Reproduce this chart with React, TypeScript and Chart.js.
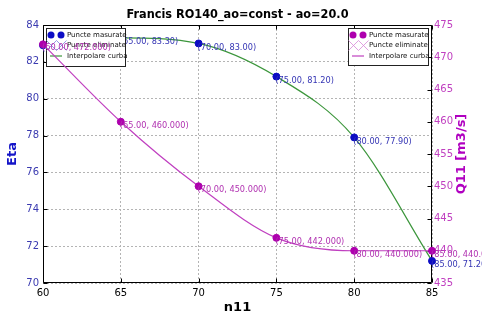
import { useEffect, useRef } from "react";
import { Chart, registerables } from "chart.js";

Chart.register(...registerables);

// ---- data ----
const n11 = [60, 65, 70, 75, 80, 85];
const eta = [82.9, 83.3, 83.0, 81.2, 77.9, 71.2];
const q11 = [472, 460, 450, 442, 440, 440];
const xTicks = [60, 65, 70, 75, 80, 85];
const etaTicks = [70, 72, 74, 76, 78, 80, 82, 84];
const q11Ticks = [435, 440, 445, 450, 455, 460, 465, 470, 475];
const titleText = "Francis RO140_ao=const - ao=20.0";
const xTitle = "n11";
const etaTitle = "Eta";
const q11Title = "Q11 [m3/s]";
const legendLabels = ["Puncte masurate", "Puncte eliminate", "Interpolare curba"];

// ---- styles ----
const FONT = '"DejaVu Sans", sans-serif';
const BLUE_PT = "#0c0cc4";
const BLUE_TXT = "#3434b4";
const BLUE_TICK = "#3a3ab0";
const BLUE_TITLE = "#1414c8";
const MAG_PT = "#ae00ae";
const MAG_LINE = "#c040c0";
const MAG_TXT = "#b030b0";
const MAG_TICK = "#c040c0";
const MAG_TITLE = "#b000c0";
const GREEN = "#3c963c";

function drawLegend(
  ctx: CanvasRenderingContext2D,
  left: number,
  top: number,
  w: number,
  h: number,
  ptColor: string,
  xColor: string,
  lineColor: string
) {
  ctx.save();
  ctx.fillStyle = "#ffffff";
  ctx.fillRect(left, top, w, h);
  ctx.strokeStyle = "#222222";
  ctx.lineWidth = 1;
  ctx.strokeRect(left + 0.5, top + 0.5, w, h);
  const rows = [top + 7, top + 17.5, top + 28];
  ctx.fillStyle = ptColor;
  for (const cx of [left + 5, left + 15]) {
    ctx.beginPath();
    ctx.arc(cx, rows[0], 3.5, 0, Math.PI * 2);
    ctx.fill();
  }
  ctx.strokeStyle = xColor;
  ctx.lineWidth = 0.8;
  for (const cx of [left + 5.5, left + 15.5]) {
    ctx.beginPath();
    ctx.moveTo(cx - 5, rows[1] - 5);
    ctx.lineTo(cx + 5, rows[1] + 5);
    ctx.moveTo(cx - 5, rows[1] + 5);
    ctx.lineTo(cx + 5, rows[1] - 5);
    ctx.stroke();
  }
  ctx.strokeStyle = lineColor;
  ctx.lineWidth = 1.2;
  ctx.beginPath();
  ctx.moveTo(left + 4, rows[2]);
  ctx.lineTo(left + 16, rows[2]);
  ctx.stroke();
  ctx.fillStyle = "#111111";
  ctx.font = `7px ${FONT}`;
  ctx.textAlign = "left";
  ctx.textBaseline = "middle";
  legendLabels.forEach((t, i) => ctx.fillText(t, left + 21, rows[i]));
  ctx.restore();
}

function drawPointLabels(
  chart: any,
  yKey: string,
  ys: number[],
  digits: number,
  color: string
) {
  const ctx = chart.ctx as CanvasRenderingContext2D;
  const xs = chart.scales.x;
  const ysc = chart.scales[yKey];
  ctx.save();
  ctx.fillStyle = color;
  ctx.font = `8.2px ${FONT}`;
  ctx.textAlign = "left";
  ctx.textBaseline = "middle";
  n11.forEach((xv, i) => {
    const px = xs.getPixelForValue(xv);
    const py = ysc.getPixelForValue(ys[i]);
    ctx.fillText(`(${xv.toFixed(2)}, ${ys[i].toFixed(digits)})`, px - 1, py + 4);
  });
  ctx.restore();
}

const overlay = {
  id: "overlay",
  beforeDatasetsDraw(chart: any) {
    const ctx = chart.ctx as CanvasRenderingContext2D;
    const a = chart.chartArea;
    const xs = chart.scales.x;
    const y = chart.scales.y;
    const y1 = chart.scales.y1;
    ctx.save();
    ctx.strokeStyle = "#000000";
    ctx.lineWidth = 1;
    ctx.beginPath();
    const L = Math.round(a.left) + 0.5;
    const R = Math.round(a.right) - 0.5;
    const T = Math.round(a.top) + 0.5;
    const B = Math.round(a.bottom) - 0.5;
    ctx.rect(L, T, R - L, B - T);
    for (const v of xTicks) {
      const px = Math.round(xs.getPixelForValue(v)) + 0.5;
      ctx.moveTo(px, B);
      ctx.lineTo(px, B - 4);
      ctx.moveTo(px, T);
      ctx.lineTo(px, T + 4);
    }
    for (const v of etaTicks) {
      const py = Math.round(y.getPixelForValue(v)) + 0.5;
      ctx.moveTo(L, py);
      ctx.lineTo(L + 4, py);
    }
    for (const v of q11Ticks) {
      const py = Math.round(y1.getPixelForValue(v)) + 0.5;
      ctx.moveTo(R, py);
      ctx.lineTo(R - 4, py);
    }
    ctx.stroke();
    ctx.restore();
  },
  afterDatasetDraw(chart: any, args: any) {
    const ctx = chart.ctx as CanvasRenderingContext2D;
    if (args.index === 0) {
      drawPointLabels(chart, "y", eta, 2, BLUE_TXT);
      drawLegend(ctx, 46, 28, 79, 38, BLUE_PT, "#8080e0", GREEN);
    } else if (args.index === 1) {
      drawPointLabels(chart, "y1", q11, 3, MAG_TXT);
      drawLegend(ctx, 348, 28, 80, 37, MAG_PT, "#d888d8", MAG_LINE);
    }
  },
  afterDraw(chart: any) {
    const ctx = chart.ctx as CanvasRenderingContext2D;
    const a = chart.chartArea;
    const cx = (a.left + a.right) / 2;
    const cy = (a.top + a.bottom) / 2;
    ctx.save();
    ctx.textAlign = "center";
    ctx.textBaseline = "middle";
    ctx.fillStyle = "#000000";
    ctx.font = `bold 12.5px ${FONT}`;
    const w = ctx.measureText(titleText).width;
    const s = Math.min(1, 222 / w);
    ctx.save();
    ctx.translate(cx, 15);
    ctx.scale(s, 1);
    ctx.fillText(titleText, 0, 0);
    ctx.restore();
    ctx.font = `bold 13px ${FONT}`;
    ctx.fillText(xTitle, cx, 308);
    ctx.save();
    ctx.translate(13, cy);
    ctx.rotate(-Math.PI / 2);
    ctx.fillStyle = BLUE_TITLE;
    ctx.fillText(etaTitle, 0, 0);
    ctx.restore();
    ctx.save();
    ctx.translate(462, cy);
    ctx.rotate(-Math.PI / 2);
    ctx.fillStyle = MAG_TITLE;
    ctx.fillText(q11Title, 0, 0);
    ctx.restore();
    ctx.restore();
  },
};

export default function App() {
  const ref = useRef<HTMLCanvasElement | null>(null);
  useEffect(() => {
    const canvas = ref.current;
    if (!canvas) return;
    const chart = new Chart(canvas, {
      type: "line",
      data: {
        datasets: [
          {
            label: etaTitle,
            data: n11.map((x, i) => ({ x, y: eta[i] })),
            yAxisID: "y",
            borderColor: GREEN,
            borderWidth: 1.2,
            pointBackgroundColor: BLUE_PT,
            pointBorderColor: BLUE_PT,
            pointRadius: 3.5,
            pointBorderWidth: 1,
            cubicInterpolationMode: "monotone",
            order: 2,
            clip: false,
          } as any,
          {
            label: q11Title,
            data: n11.map((x, i) => ({ x, y: q11[i] })),
            yAxisID: "y1",
            borderColor: MAG_LINE,
            borderWidth: 1.2,
            pointBackgroundColor: MAG_PT,
            pointBorderColor: MAG_PT,
            pointRadius: 3.5,
            pointBorderWidth: 1,
            cubicInterpolationMode: "monotone",
            order: 1,
            clip: false,
          } as any,
        ],
      },
      options: {
        animation: false,
        responsive: false,
        devicePixelRatio: 1,
        events: [],
        layout: { padding: { top: 25, left: 0, right: 0, bottom: 0 } },
        plugins: {
          legend: { display: false },
          title: { display: false },
          tooltip: { enabled: false },
        },
        scales: {
          x: {
            type: "linear",
            min: 60,
            max: 85,
            afterBuildTicks: (sc: any) => {
              sc.ticks = xTicks.map((v) => ({ value: v }));
            },
            afterFit: (sc: any) => {
              sc.height = 32;
            },
            ticks: {
              color: "#000000",
              font: { family: FONT, size: 10 },
              padding: 4,
              maxRotation: 0,
              callback: (v: any) => String(v),
            },
            grid: { color: "#b4b4b4", lineWidth: 1, drawTicks: false },
            border: { display: false, dash: [2, 2] },
          },
          y: {
            type: "linear",
            position: "left",
            min: 70,
            max: 84,
            afterBuildTicks: (sc: any) => {
              sc.ticks = etaTicks.map((v) => ({ value: v }));
            },
            afterFit: (sc: any) => {
              sc.width = 43;
            },
            ticks: {
              color: BLUE_TICK,
              font: { family: FONT, size: 10 },
              padding: 4,
              callback: (v: any) => String(v),
            },
            grid: { color: "#b4b4b4", lineWidth: 1, drawTicks: false },
            border: { display: false, dash: [2, 2] },
          },
          y1: {
            type: "linear",
            position: "right",
            min: 435,
            max: 475,
            afterBuildTicks: (sc: any) => {
              sc.ticks = q11Ticks.map((v) => ({ value: v }));
            },
            afterFit: (sc: any) => {
              sc.width = 50;
            },
            ticks: {
              color: MAG_TICK,
              font: { family: FONT, size: 10 },
              padding: 2,
              callback: (v: any) => String(v),
            },
            grid: { display: false, drawTicks: false },
            border: { display: false },
          },
        },
      } as any,
      plugins: [overlay],
    });
    return () => chart.destroy();
  }, []);

  return (
    <div style={{ position: "fixed", left: 0, top: 0, width: 482, height: 315, background: "#ffffff" }}>
      <canvas ref={ref} width={482} height={315} style={{ width: 482, height: 315, display: "block" }} />
    </div>
  );
}
